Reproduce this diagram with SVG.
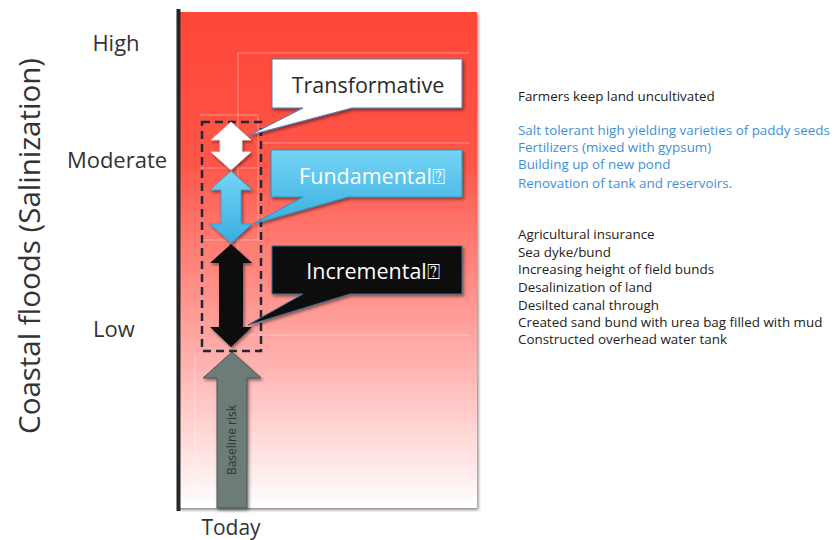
<svg xmlns="http://www.w3.org/2000/svg" width="838" height="540" viewBox="0 0 838 540">
<defs>
<linearGradient id="bg" x1="0" y1="0" x2="0" y2="1">
<stop offset="0" stop-color="#ff4636"/>
<stop offset="0.3" stop-color="#ff5548"/>
<stop offset="0.7" stop-color="#ffb0ad"/>
<stop offset="1" stop-color="#ffffff"/>
</linearGradient>
<linearGradient id="blue" x1="0" y1="0" x2="0" y2="1">
<stop offset="0" stop-color="#74d5f5"/>
<stop offset="1" stop-color="#3aaee0"/>
</linearGradient>
<filter id="sh" x="-20%" y="-20%" width="140%" height="140%">
<feDropShadow dx="1.5" dy="2" stdDeviation="1.5" flood-color="#000" flood-opacity="0.45"/>
</filter>
<style>
.lbl{font-family:"Open Sans","Liberation Sans",sans-serif;fill:#333;}
.item{font-family:"Open Sans","Liberation Sans",sans-serif;font-size:13.4px;fill:#222;}
.blue{fill:#3f8fd8;}
.guide{fill:none;stroke:#ffffff;stroke-opacity:0.35;stroke-width:1;}
.ct{font-family:"Open Sans","Liberation Sans",sans-serif;font-size:21.5px;text-anchor:middle;}
</style>
</defs>

<g id="panel">
<rect x="177" y="12" width="300" height="496" fill="url(#bg)" filter="url(#sh)"/>
<line x1="178.5" y1="9" x2="178.5" y2="511" stroke="#262626" stroke-width="4"/>
<g class="guide">
<polyline points="238,53 470,53"/>
<polyline points="238,53 238,335"/>
<polyline points="262,143 470,143"/>
<polyline points="238,335 470,335"/>
<polyline points="200,115 258,115 258,240"/>
<polyline points="200,240 262,240"/>
<polyline points="200,168 260,168"/>
<polyline points="195,355 195,508"/>
</g>
</g>

<g id="axis-labels">
<text class="lbl" x="116" y="51" font-size="22" text-anchor="middle">High</text>
<text class="lbl" x="117" y="168" font-size="22" text-anchor="middle">Moderate</text>
<text class="lbl" x="114" y="337" font-size="22" text-anchor="middle">Low</text>
<text class="lbl" x="231" y="535" font-size="21" text-anchor="middle">Today</text>
<text class="lbl" transform="translate(40,246) rotate(-90)" font-size="29.5" text-anchor="middle">Coastal floods (Salinization)</text>
</g>

<g id="baseline">
<polygon points="232,352 261,378 247,378 247,508 217,508 217,378 203,378" fill="#6e7b78" stroke="#4a5452" stroke-width="1" filter="url(#sh)"/>
<text class="lbl" transform="translate(236,440) rotate(-90)" font-size="12" text-anchor="middle" fill="#2a2a2a">Baseline risk</text>
</g>

<g id="dashed-box">
<rect x="202" y="122" width="59" height="229" fill="none" stroke="#1f2a36" stroke-width="2.5" stroke-dasharray="8,5"/>
</g>

<g id="arrow-transformative">
<polygon points="231,122 251,140 242,140 242,152 251,152 231,170 211,152 220,152 220,140 211,140" fill="#ffffff" stroke="#dddddd" stroke-width="0.8" filter="url(#sh)"/>
</g>
<g id="arrow-fundamental">
<polygon points="231,171 252,190 241,190 241,224 252,224 231,243 210,224 221,224 221,190 210,190" fill="url(#blue)" stroke="#2d9ccc" stroke-width="0.8" filter="url(#sh)"/>
</g>
<g id="arrow-incremental">
<polygon points="231,244 252,263 243,263 243,327 252,327 231,347 210,327 219,327 219,263 210,263" fill="#0c0c0c" filter="url(#sh)"/>
</g>

<g id="callout-transformative">
<path d="M272,59 H462 V108 H352 L250,135 L303,108 H272 Z" fill="#ffffff" stroke="#4a7ebb" stroke-width="1" filter="url(#sh)"/>
<text class="ct" x="368" y="93" fill="#2a2a2a">Transformative</text>
</g>
<g id="callout-fundamental">
<path d="M271,150 H462 V197 H348 L253,224 L303,197 H271 Z" fill="url(#blue)" stroke="#2f93c0" stroke-width="1" filter="url(#sh)"/>
<text class="ct" x="372" y="184" fill="#ffffff">Fundamental⍰</text>
</g>
<g id="callout-incremental">
<path d="M272,246 H462 V294 H350 L248,325 L303,294 H272 Z" fill="#0c0c0c" stroke="#3b6c8e" stroke-width="1" filter="url(#sh)"/>
<text class="ct" x="373" y="279" fill="#ffffff">Incremental⍰</text>
</g>

<g id="list-transformative">
<text class="item" x="518" y="101">Farmers keep land uncultivated</text>
</g>
<g id="list-fundamental">
<text class="item blue" x="518" y="135">Salt tolerant high yielding varieties of paddy seeds</text>
<text class="item blue" x="518" y="152">Fertilizers (mixed with gypsum)</text>
<text class="item blue" x="518" y="169">Building up of new pond</text>
<text class="item blue" x="518" y="188">Renovation of tank and reservoirs.</text>
</g>
<g id="list-incremental">
<text class="item" x="518" y="239">Agricultural insurance</text>
<text class="item" x="518" y="257">Sea dyke/bund</text>
<text class="item" x="518" y="274">Increasing height of field bunds</text>
<text class="item" x="518" y="292">Desalinization of land</text>
<text class="item" x="518" y="310">Desilted canal through</text>
<text class="item" x="518" y="327">Created sand bund with urea bag filled with mud</text>
<text class="item" x="518" y="344">Constructed overhead water tank</text>
</g>
</svg>
